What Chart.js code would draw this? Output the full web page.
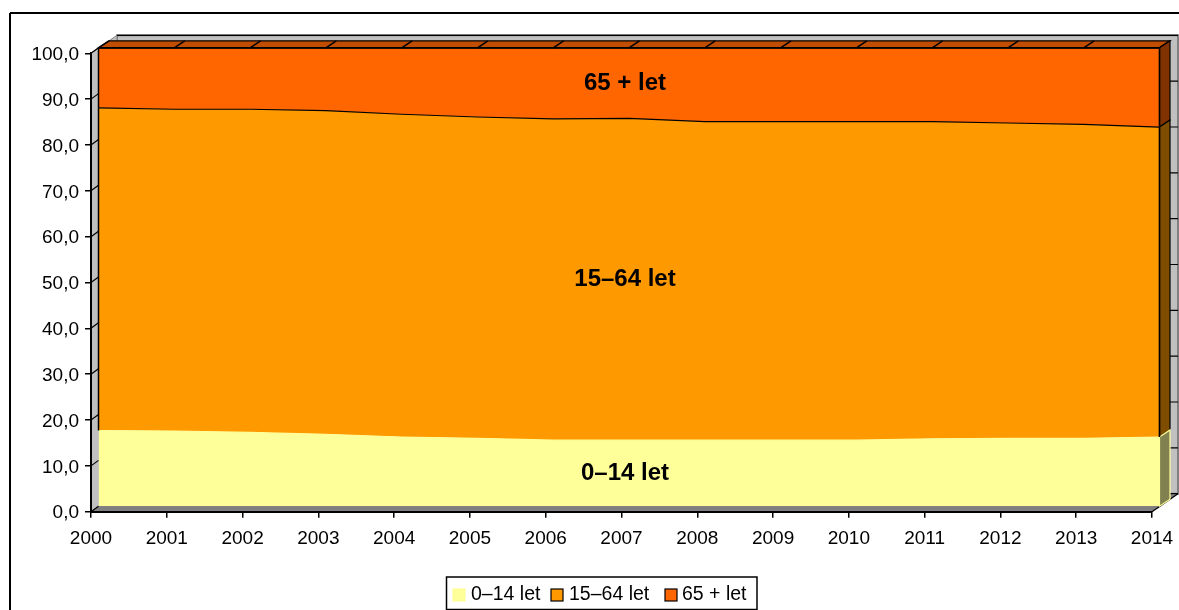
<!DOCTYPE html>
<html lang="cs">
<head>
<meta charset="utf-8">
<title>Věkové skupiny</title>
<style>
  html, body { margin: 0; padding: 0; background: #fff; overflow: hidden; }
  canvas { display: block; }
</style>
<script src="https://cdn.jsdelivr.net/npm/chart.js@4"></script>
</head>
<body>
<canvas id="chart" width="1179" height="610"></canvas>
<script>
// ============ Data ============

const years = ['2000', '2001', '2002', '2003', '2004', '2005', '2006', '2007',
    '2008', '2009', '2010', '2011', '2012', '2013', '2014'];
const children = [16.5, 16.4, 16.1, 15.7, 15.1, 14.8, 14.4, 14.4, 14.4, 14.4, 14.4, 14.7, 14.8, 14.8, 15.1];
const working = [70.4, 70.2, 70.5, 70.6, 70.4, 70.1, 70.1, 70.2, 69.5, 69.5, 69.5, 69.2, 68.8, 68.5, 67.6];
const seniors = [13.1, 13.4, 13.4, 13.7, 14.5, 15.1, 15.5, 15.4, 16.1, 16.1, 16.1, 16.1, 16.4, 16.7, 17.3];
const seriesNames = ['0–14 let', '15–64 let', '65 + let'];

// ============ Style ============

const FONT = '"Liberation Sans", Arial, sans-serif';
const YELLOW = '#FFFF99';
const ORANGE = '#FF9900';
const DEEP = '#FF6600';

// the areas stand in front of the axes, the walls further back
const AREA_DX = 7.5, AREA_DY = -5.5;
const BAND_DX = 10.5, BAND_DY = -7;
const WALL_DX = 26, WALL_DY = -18;

// legend swatch and text starts, left to right
const LEGEND_SWATCH_X = [453, 551, 665];
const LEGEND_TEXT_X = [471, 569, 682];

function poly(ctx, pts, fill, stroke, width) {
    ctx.beginPath();
    pts.forEach((p, i) => i ? ctx.lineTo(p[0], p[1]) : ctx.moveTo(p[0], p[1]));
    ctx.closePath();
    if (fill) { ctx.fillStyle = fill; ctx.fill(); }
    if (stroke) { ctx.strokeStyle = stroke; ctx.lineWidth = width || 1; ctx.stroke(); }
}

function line(ctx, x1, y1, x2, y2, color, width) {
    ctx.beginPath();
    ctx.moveTo(x1, y1);
    ctx.lineTo(x2, y2);
    ctx.strokeStyle = color;
    ctx.lineWidth = width;
    ctx.stroke();
}

// ============ 3D look ============

const framePlugin = {
    id: 'frame',
    beforeDraw(chart) {
        const { ctx, chartArea: a, scales: { y } } = chart;
        ctx.save();
        // outer frame, cut by the window on the right and at the bottom
        line(ctx, 10, 13, 1179, 13, '#000', 2);
        line(ctx, 10, 13, 10, 610, '#000', 2);

        // back wall, side wall, floor
        poly(ctx, [[a.left + WALL_DX, a.top + WALL_DY], [a.right + WALL_DX, a.top + WALL_DY],
            [a.right + WALL_DX, a.bottom + WALL_DY], [a.left + WALL_DX, a.bottom + WALL_DY]], '#C0C0C0', '#808080', 2);
        poly(ctx, [[a.left, a.top], [a.left + WALL_DX, a.top + WALL_DY],
            [a.left + WALL_DX, a.bottom + WALL_DY], [a.left, a.bottom]], '#C0C0C0', '#808080', 1);
        poly(ctx, [[a.left, a.bottom], [a.left + WALL_DX, a.bottom + WALL_DY],
            [a.right + WALL_DX, a.bottom + WALL_DY], [a.right, a.bottom]], '#808080');
        y.ticks.forEach(t => {
            const py = y.getPixelForValue(t.value);
            line(ctx, a.left + WALL_DX, py + WALL_DY, a.right + WALL_DX, py + WALL_DY, '#000', 1.2);
            line(ctx, a.left, py, a.left + AREA_DX, py + AREA_DY, '#000', 1.2);
        });
        line(ctx, a.right, a.bottom, a.right + WALL_DX, a.bottom + WALL_DY, '#000', 1.2);
        ctx.restore();
    },
    beforeDatasetsDraw(chart) {
        chart.ctx.save();
        chart.ctx.translate(AREA_DX, AREA_DY);
    },
    afterDatasetsDraw(chart) {
        const { ctx, scales: { x, y } } = chart;
        ctx.restore();
        ctx.save();

        const n = years.length - 1;
        const fx = x.getPixelForValue(n) + AREA_DX;
        const lx = x.getPixelForValue(0) + AREA_DX;
        const top = y.getPixelForValue(100) + AREA_DY;
        const base = y.getPixelForValue(0) + AREA_DY;
        const edge1 = y.getPixelForValue(children[n]) + AREA_DY;
        const edge2 = y.getPixelForValue(children[n] + working[n]) + AREA_DY;
        const leftEdge = y.getPixelForValue(children[0]) + AREA_DY;

        // top face of the upper area
        poly(ctx, [[lx, top], [lx + BAND_DX, top + BAND_DY], [fx + BAND_DX, top + BAND_DY], [fx, top]], '#C04D00', '#000', 1.2);
        years.forEach((label, i) => {
            const px = x.getPixelForValue(i) + AREA_DX;
            line(ctx, px, top, px + BAND_DX, top + BAND_DY, '#000', 1.5);
        });

        // right hand faces of the three areas
        poly(ctx, [[fx, top], [fx + BAND_DX, top + BAND_DY], [fx + BAND_DX, edge2 + BAND_DY], [fx, edge2]], '#803300', '#000', 1.2);
        poly(ctx, [[fx, edge2], [fx + BAND_DX, edge2 + BAND_DY], [fx + BAND_DX, edge1 + BAND_DY], [fx, edge1]], '#7F4D00', '#000', 1.2);
        poly(ctx, [[fx, edge1], [fx + BAND_DX, edge1 + BAND_DY], [fx + BAND_DX, base + BAND_DY], [fx, base]], '#808050', YELLOW, 1.2);

        // front edges
        line(ctx, lx, top, lx, leftEdge, '#000', 1.5);
        line(ctx, fx, top, fx, edge1, '#000', 1.5);
        line(ctx, lx, top, fx, top, '#000', 1.5);

        // series names inside the areas
        const cx = (x.left + x.right) / 2 + 3.5;
        ctx.font = `bold 24px ${FONT}`;
        ctx.fillStyle = '#000';
        ctx.textAlign = 'center';
        ctx.textBaseline = 'middle';
        const mid = 7;
        const levels = [children[mid] / 2, children[mid] + working[mid] / 2, children[mid] + working[mid] + seniors[mid] / 2];
        seriesNames.forEach((name, i) => {
            ctx.fillText(name, cx, y.getPixelForValue(levels[i]) + AREA_DY);
        });
        ctx.restore();
    },
    afterDraw(chart) {
        const ctx = chart.ctx;
        ctx.save();
        ctx.strokeStyle = '#000';
        ctx.lineWidth = 1.5;
        ctx.strokeRect(446.5, 577, 310.5, 32.5);

        // legend: the gaps are tighter than the built-in one can draw
        ctx.font = `19.5px ${FONT}`;
        ctx.textAlign = 'left';
        ctx.textBaseline = 'middle';
        chart.data.datasets.forEach((ds, i) => {
            ctx.fillStyle = ds.backgroundColor;
            ctx.strokeStyle = ds.borderColor;
            ctx.lineWidth = 1.2;
            ctx.fillRect(LEGEND_SWATCH_X[i], 589, 12, 12);
            ctx.strokeRect(LEGEND_SWATCH_X[i], 589, 12, 12);
            ctx.fillStyle = '#000';
            ctx.fillText(ds.label, LEGEND_TEXT_X[i], 595);
        });
        ctx.restore();
    }
};

// ============ Chart ============

function makeArea(label, data, fillColor, lineColor, fillTo) {
    return {
        label: label,
        data: data,
        backgroundColor: fillColor,
        borderColor: lineColor,
        borderWidth: 1.2,
        fill: fillTo,
        tension: 0,
        pointRadius: 0,
        clip: false
    };
}

new Chart(document.getElementById('chart'), {
    type: 'line',
    data: {
        labels: years,
        datasets: [
            makeArea(seriesNames[0], children, YELLOW, YELLOW, 'origin'),
            makeArea(seriesNames[1], working, ORANGE, '#000', '-1'),
            makeArea(seriesNames[2], seniors, DEEP, '#000', '-1')
        ]
    },
    options: {
        responsive: false,
        animation: false,
        devicePixelRatio: 1,
        layout: { padding: { top: 53.3, right: 27, left: 0, bottom: 0 } },
        plugins: {
            legend: { display: false },
            tooltip: { enabled: false }
        },
        scales: {
            x: {
                offset: false,
                grid: { drawOnChartArea: false, color: '#000', lineWidth: 1.5, tickLength: 6 },
                border: { color: '#000', width: 2 },
                ticks: {
                    color: '#000',
                    font: { family: FONT, size: 19 },
                    maxRotation: 0,
                    autoSkip: false,
                    padding: 10
                },
                afterFit: (scale) => { scale.height = 98.3; scale.paddingRight = 0; }
            },
            y: {
                stacked: true,
                min: 0,
                max: 100,
                grid: { drawOnChartArea: false, color: '#000', lineWidth: 1.5, tickLength: 6 },
                border: { color: '#000', width: 2 },
                ticks: {
                    stepSize: 10,
                    color: '#000',
                    font: { family: FONT, size: 19 },
                    padding: 6,
                    labelOffset: 1.5,
                    callback: (val) => val.toFixed(1).replace('.', ',')
                },
                afterFit: (scale) => { scale.width = 91; }
            }
        }
    },
    plugins: [framePlugin]
});
</script>
</body>
</html>
